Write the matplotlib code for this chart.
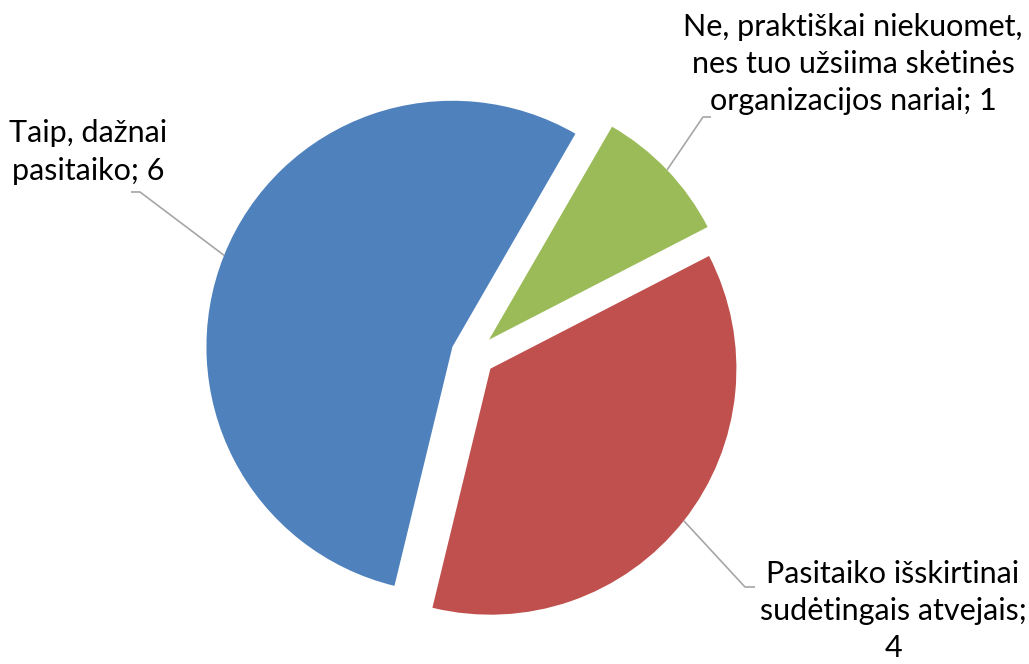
import numpy as np
import matplotlib
matplotlib.use("Agg")
import matplotlib.pyplot as plt

# answers and counts, in the order the slices are drawn
categories = [
    "Taip, dažnai\npasitaiko",
    "Pasitaiko išskirtinai\nsudėtingais atvejais",
    "Ne, praktiškai niekuomet,\nnes tuo užsiima skėtinės\norganizacijos nariai",
]
counts = [6, 4, 1]
value_seps = ["; ", ";\n", "; "]
colors = ["#4F81BD", "#C0504D", "#9BBB59"]

W, H = 1029, 664
R_PX = 246.0             # pie radius in pixels
CX, CY = 473.0, 355.0    # pie centre in pixels (from top-left)


def px(x, y):
    """pixel position (top-left origin) -> data units (radius 1 pie)"""
    return (x - CX) / R_PX, (CY - y) / R_PX


# label centre and leader elbow/end, in pixels
label_pos = [(88, 152), (893, 611), (853, 64)]
leader_elbow = [(140, 192), (745, 587), (703, 117)]
leader_end = [(131, 192), (755, 587), (711, 117)]

plt.rcParams["font.family"] = ["Lato", "DejaVu Sans"]
fig = plt.figure(figsize=(W / 100, H / 100), dpi=100)
ax = fig.add_axes([0, 0, 1, 1])

wedges, _ = ax.pie(counts, colors=colors, startangle=60, counterclock=True,
                   explode=[0.09] * len(counts), radius=1.0,
                   wedgeprops=dict(linewidth=0))

for w, name, n, sep, lp, el, end in zip(wedges, categories, counts, value_seps,
                                        label_pos, leader_elbow, leader_end):
    mid = np.deg2rad((w.theta1 + w.theta2) / 2)
    ax0 = w.center[0] + w.r * np.cos(mid)
    ay0 = w.center[1] + w.r * np.sin(mid)
    ex, ey = px(*el)
    fx, fy = px(*end)
    ax.plot([ax0, ex, fx], [ay0, ey, fy], color="#A6A6A6", lw=1.2,
            solid_capstyle="butt")
    tx, ty = px(*lp)
    ax.text(tx, ty, f"{name}{sep}{n}", ha="center", va="center",
            fontsize=22, linespacing=1.4, color="#000000")

ax.set_xlim(-CX / R_PX, (W - CX) / R_PX)
ax.set_ylim(-(H - CY) / R_PX, CY / R_PX)
ax.set_aspect("equal", adjustable="box")
ax.axis("off")
fig.savefig("out.png", dpi=100)
